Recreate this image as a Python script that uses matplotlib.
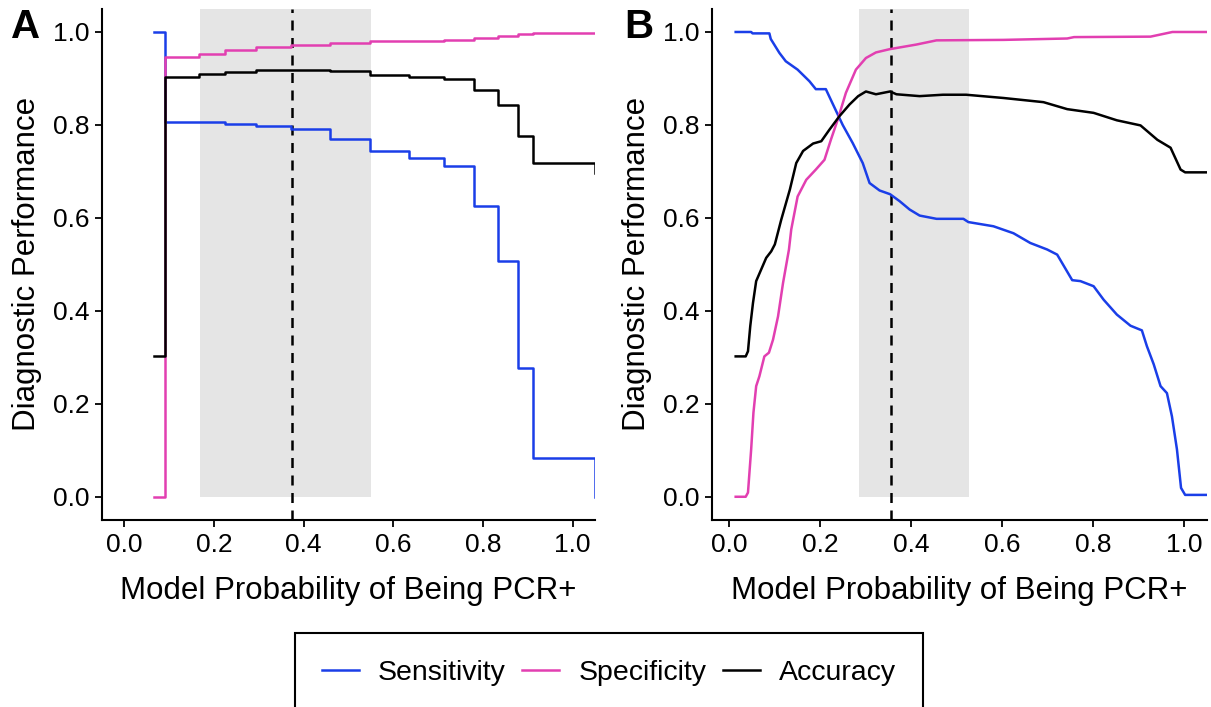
import numpy as np
import matplotlib.pyplot as plt
from matplotlib.lines import Line2D

plt.rcParams['font.family'] = ['Liberation Sans', 'DejaVu Sans']

BLUE = '#1a3ee8'
PINK = '#e23fb1'

# panel A: step thresholds
xA = [0.065, 0.091, 0.167, 0.225, 0.294, 0.372, 0.459, 0.548, 0.636, 0.712, 0.779, 0.834, 0.879, 0.912, 1.05]
sensA = [1.0, 0.807, 0.807, 0.802, 0.797, 0.792, 0.770, 0.744, 0.728, 0.712, 0.626, 0.507, 0.277, 0.083, 0.0]
specA = [0.0, 0.947, 0.952, 0.961, 0.968, 0.972, 0.977, 0.980, 0.980, 0.983, 0.988, 0.992, 0.995, 0.997, 0.997]
accA = [0.302, 0.904, 0.910, 0.913, 0.918, 0.918, 0.915, 0.908, 0.903, 0.899, 0.875, 0.842, 0.776, 0.718, 0.697]
shadeA = (0.169, 0.55)
cutA = 0.373

# panel B
xB_sens = [0.015, 0.049, 0.052, 0.089, 0.092, 0.111, 0.125, 0.151, 0.177, 0.191, 0.213, 0.224, 0.250, 0.272,
           0.294, 0.309, 0.331, 0.354, 0.375, 0.397, 0.419, 0.456, 0.515, 0.526, 0.581, 0.625, 0.662, 0.699,
           0.721, 0.754, 0.772, 0.801, 0.823, 0.852, 0.882, 0.907, 0.918, 0.933, 0.948, 0.962, 0.973, 0.984,
           0.993, 1.002, 1.05]
sensB = [1.0, 1.0, 0.997, 0.997, 0.985, 0.955, 0.937, 0.919, 0.894, 0.877, 0.877, 0.854, 0.800, 0.761,
         0.718, 0.675, 0.659, 0.651, 0.636, 0.618, 0.605, 0.598, 0.598, 0.591, 0.582, 0.567, 0.546, 0.532,
         0.521, 0.466, 0.464, 0.453, 0.424, 0.392, 0.368, 0.358, 0.324, 0.285, 0.238, 0.223, 0.173, 0.102,
         0.019, 0.004, 0.004]
xB_spec = [0.015, 0.037, 0.042, 0.049, 0.054, 0.060, 0.067, 0.078, 0.088, 0.097, 0.108, 0.119, 0.132, 0.137,
           0.151, 0.170, 0.191, 0.210, 0.224, 0.239, 0.257, 0.279, 0.301, 0.323, 0.353, 0.412, 0.456, 0.603,
           0.743, 0.758, 0.926, 0.974, 1.05]
specB = [0.0, 0.0, 0.009, 0.102, 0.181, 0.238, 0.259, 0.302, 0.310, 0.338, 0.388, 0.460, 0.532, 0.575,
         0.646, 0.682, 0.704, 0.725, 0.768, 0.811, 0.869, 0.919, 0.944, 0.956, 0.963, 0.973, 0.982, 0.983,
         0.986, 0.989, 0.990, 1.0, 1.0]
xB_acc = [0.015, 0.037, 0.042, 0.047, 0.053, 0.060, 0.071, 0.082, 0.093, 0.101, 0.115, 0.134, 0.148, 0.163,
          0.185, 0.203, 0.221, 0.243, 0.265, 0.284, 0.301, 0.323, 0.354, 0.368, 0.419, 0.470, 0.521, 0.603,
          0.691, 0.743, 0.801, 0.852, 0.904, 0.941, 0.970, 0.992, 1.002, 1.05]
accB = [0.302, 0.302, 0.313, 0.367, 0.417, 0.464, 0.489, 0.514, 0.528, 0.543, 0.596, 0.661, 0.718, 0.744,
        0.760, 0.765, 0.790, 0.819, 0.844, 0.862, 0.872, 0.866, 0.872, 0.866, 0.862, 0.865, 0.865, 0.858,
        0.849, 0.834, 0.826, 0.810, 0.799, 0.768, 0.751, 0.704, 0.698, 0.698]
shadeB = (0.286, 0.527)
cutB = 0.355

ticks = [0, 0.2, 0.4, 0.6, 0.8, 1.0]
tick_labels = ['0.0', '0.2', '0.4', '0.6', '0.8', '1.0']

fig = plt.figure(figsize=(12.11, 7.07), dpi=100)
axA = fig.add_axes([102/1211, 1-520/707, (595-102)/1211, (520-8.75)/707])
axB = fig.add_axes([712/1211, 1-520/707, (1207-712)/1211, (520-8.75)/707])


def style(ax, xlim):
    ax.set_xlim(*xlim)
    ax.set_ylim(-0.05, 1.05)
    ax.set_xticks(ticks)
    ax.set_yticks(ticks)
    ax.set_xticklabels(tick_labels)
    ax.set_yticklabels(tick_labels)
    for s in ['top', 'right']:
        ax.spines[s].set_visible(False)
    for s in ['left', 'bottom']:
        ax.spines[s].set_linewidth(1.5)
    ax.tick_params(width=1.3, length=5, labelsize=19, colors='black', pad=4)
    ax.set_xlabel('Model Probability of Being PCR+', fontsize=22.5, labelpad=14)
    ax.set_ylabel('Diagnostic Performance', fontsize=22.5, labelpad=8)


def curves(ax, xs, ys, shade, cut, step):
    ax.fill_between(shade, 0, 1.05, color='#e5e5e5', lw=0)
    ax.axvline(cut, color='black', ls=(0, (4, 3)), lw=1.8)
    ds = 'steps-post' if step else 'default'
    for x, y, c in zip(xs, ys, [BLUE, PINK, 'black']):
        ax.plot(x, y, drawstyle=ds, color=c, lw=1.8)


curves(axA, [xA, xA, xA], [sensA, specA, accA], shadeA, cutA, True)
style(axA, (-0.05, 1.05))

curves(axB, [xB_sens, xB_spec, xB_acc], [sensB, specB, accB], shadeB, cutB, False)
style(axB, (-0.037, 1.05))

fig.text(11/1211, 1-8/707, 'A', fontsize=29, fontweight='bold', va='top', ha='left')
fig.text(624/1211, 1-8/707, 'B', fontsize=29, fontweight='bold', va='top', ha='left')

handles = [Line2D([], [], color=BLUE, lw=1.8),
           Line2D([], [], color=PINK, lw=1.8),
           Line2D([], [], color='black', lw=1.8)]
leg = fig.legend(handles, ['Sensitivity', 'Specificity', 'Accuracy'], loc='upper center',
                 bbox_to_anchor=(609/1211, 1-633/707), ncol=3, fontsize=20.5, frameon=True,
                 fancybox=False, edgecolor='black', framealpha=1, borderpad=0.95,
                 handlelength=1.3, handletextpad=0.66, columnspacing=0.6, borderaxespad=0)
leg.get_frame().set_linewidth(1.5)

fig.savefig('out.png', dpi=100)
